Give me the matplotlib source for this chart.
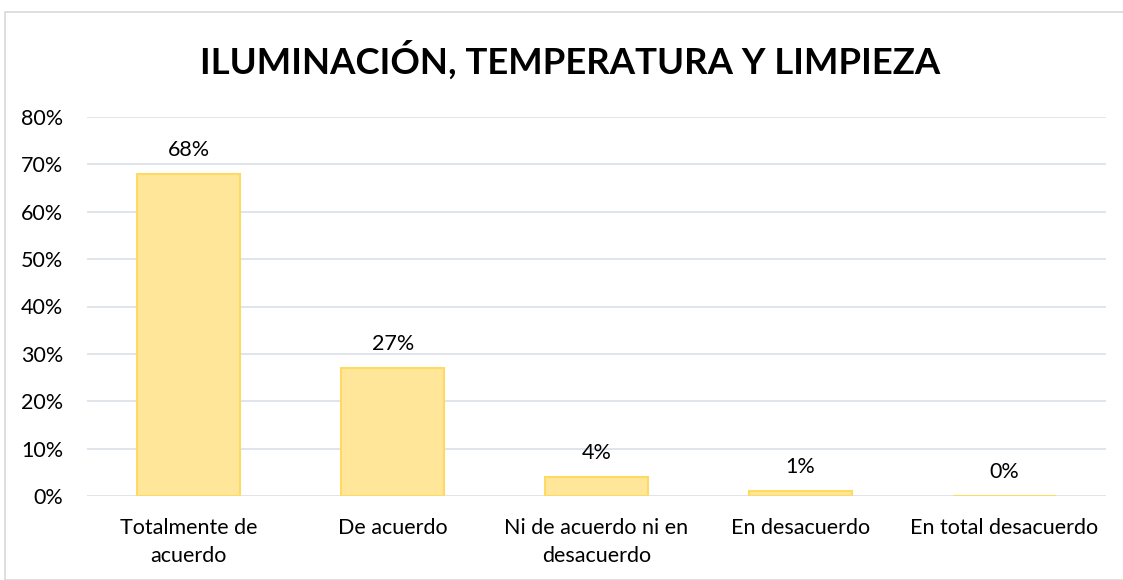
import matplotlib
matplotlib.use("Agg")
import matplotlib.pyplot as plt
from matplotlib.patches import Rectangle
from matplotlib.ticker import FuncFormatter

categories = ["Totalmente de\nacuerdo", "De acuerdo", "Ni de acuerdo ni en\ndesacuerdo",
              "En desacuerdo", "En total desacuerdo"]
values = [68, 27, 4, 1, 0]
labels = ["68%", "27%", "4%", "1%", "0%"]
yticks = [0, 10, 20, 30, 40, 50, 60, 70, 80]
title = "ILUMINACIÓN, TEMPERATURA Y LIMPIEZA"

plt.rcParams['font.family'] = ['Lato', 'DejaVu Sans']

W, H = 1123, 580
fig = plt.figure(figsize=(W / 100, H / 100), dpi=100)
fig.patch.set_facecolor("white")

# outer chart border
fig.patches.append(Rectangle((5 / W, 0), 1.2, 1 - 12 / H, transform=fig.transFigure,
                             fill=False, edgecolor="#D9D9D9", linewidth=1.2))

left, right, bottom, top = 87, 1106, 496, 117
y_top_val = 80
ax = fig.add_axes([left / W, 1 - bottom / H, (right - left) / W, (bottom - top) / H])
ax.set_xlim(-0.5, len(categories) - 0.5)
ax.set_ylim(0, y_top_val)

x = list(range(len(categories)))
ax.bar(x, values, width=0.505, color="#FFE699", edgecolor="#FFD966", linewidth=1.5, zorder=2)

for xi, v, lab in zip(x, values, labels):
    ax.annotate(lab, (xi, v), xytext=(0, 10), textcoords="offset points",
                ha="center", va="bottom", fontsize=15.5, color="#000000")

ax.set_yticks(yticks)
ax.yaxis.set_major_formatter(FuncFormatter(lambda v, p: f"{int(v)}%"))
ax.set_xticks(x)
ax.set_xticklabels(categories, fontsize=15.5, linespacing=1.5)
ax.tick_params(axis="y", labelsize=15.5, length=0, pad=17)
ax.tick_params(axis="x", length=0, pad=16)
ax.grid(axis="y", color="#DDE3EA", linewidth=1.3, zorder=0)
ax.set_axisbelow(True)
for s in ax.spines.values():
    s.set_visible(False)

fig.text(570 / W, 1 - 60 / H, title, ha="center", va="center", fontsize=26.3,
         fontweight="bold", color="#000000")

fig.savefig("out.png", dpi=100, facecolor="white")
